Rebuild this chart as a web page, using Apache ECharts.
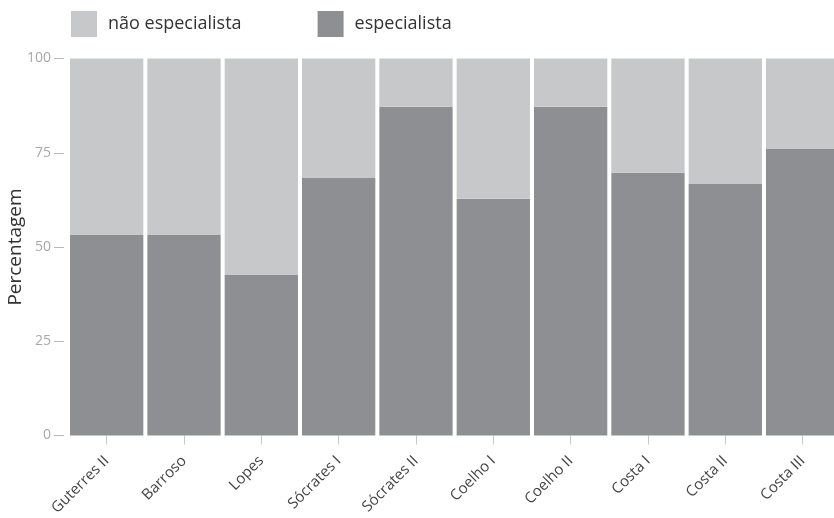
<!DOCTYPE html>
<html>
<head>
<meta charset="utf-8">
<script src="https://cdn.jsdelivr.net/npm/echarts@6/dist/echarts.min.js"></script>
<style>
  html, body { margin: 0; padding: 0; background: #fff; }
  #chart { width: 834px; height: 518px; }
</style>
</head>
<body>
<div id="chart"></div>
<script>
const categories = ['Guterres II', 'Barroso', 'Lopes', 'Sócrates I', 'Sócrates II', 'Coelho I', 'Coelho II', 'Costa I', 'Costa II', 'Costa III'];
const especialista = [53.2, 53.2, 42.6, 68.3, 87.2, 62.8, 87.2, 69.7, 66.7, 76.0];
const naoEspecialista = [46.8, 46.8, 57.4, 31.7, 12.8, 37.2, 12.8, 30.3, 33.3, 24.0];
const yTicks = [0, 25, 50, 75, 100];

const FONT = '"Open Sans", Roboto, sans-serif';
const chart = echarts.init(document.getElementById('chart'), null, { renderer: 'canvas' });
chart.setOption({
  animation: false,
  backgroundColor: '#ffffff',
  textStyle: { fontFamily: FONT },
  legend: {
    left: 66,
    top: 6,
    itemWidth: 26,
    itemHeight: 26,
    itemGap: 76,
    icon: 'rect',
    data: ['não especialista', 'especialista'],
    textStyle: { fontSize: 18, color: '#333', fontFamily: FONT, padding: [0, 0, 0, 6] }
  },
  grid: { left: 68, top: 58.5, width: 773.3, height: 377, containLabel: false, outerBoundsMode: 'none' },
  xAxis: {
    type: 'category',
    data: categories,
    offset: 3,
    axisLine: { show: false },
    axisTick: { show: true, alignWithLabel: true, length: 9, lineStyle: { color: '#c8c8c8' } },
    axisLabel: { rotate: 45, margin: 20, fontSize: 15, color: '#444', fontFamily: FONT, interval: 0 }
  },
  yAxis: {
    type: 'value',
    min: yTicks[0],
    max: yTicks[yTicks.length - 1],
    interval: 25,
    offset: 4,
    name: 'Percentagem',
    nameLocation: 'middle',
    nameGap: 39,
    nameMoveOverlap: false,
    nameTextStyle: { fontSize: 19, color: '#333', fontFamily: FONT },
    axisLine: { show: false },
    axisTick: { show: true, length: 10, lineStyle: { color: '#b8b8b8' } },
    splitLine: { show: false },
    axisLabel: { margin: 13, fontSize: 14, color: '#a8a8a8', fontFamily: FONT }
  },
  series: [
    {
      name: 'especialista', type: 'bar', stack: 'total', data: especialista,
      barCategoryGap: '5.2%',
      itemStyle: { color: '#8e8f93' }
    },
    {
      name: 'não especialista', type: 'bar', stack: 'total', data: naoEspecialista,
      barCategoryGap: '5.2%',
      itemStyle: { color: '#c7c8ca' }
    }
  ]
});
</script>
</body>
</html>
